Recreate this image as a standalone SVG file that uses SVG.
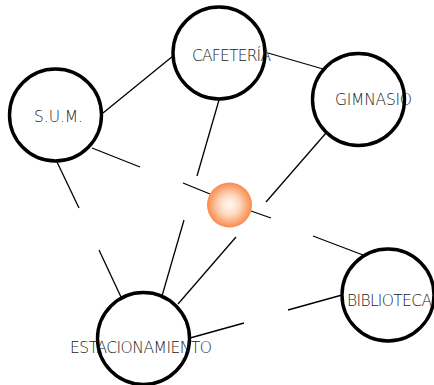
<svg xmlns="http://www.w3.org/2000/svg" width="434" height="385" viewBox="0 0 434 385">
  <defs>
    <radialGradient id="hubFill" cx="50%" cy="50%" r="50%">
      <stop offset="0" stop-color="#fffaf6"/>
      <stop offset="0.45" stop-color="#fdd9c0"/>
      <stop offset="1" stop-color="#f98a4a"/>
    </radialGradient>
  </defs>
  <style>
    .node { fill: #ffffff; stroke: #000000; stroke-width: 3.4; }
    .label { font-family: "DejaVu Sans", "Liberation Sans", sans-serif; font-weight: 200; font-size: 15.5px; fill: #1a1a1a; }
    .link { stroke: #000000; stroke-width: 1.3; fill: none; stroke-linecap: butt; }
  </style>
  <rect width="434" height="385" fill="#ffffff"/>

  <g id="connectors">
    <line class="link" x1="103" y1="113" x2="173" y2="56"/>
    <line class="link" x1="268" y1="53" x2="323" y2="69"/>
    <line class="link" x1="92" y1="148" x2="140" y2="167"/>
    <line class="link" x1="183" y1="183" x2="210" y2="194"/>
    <line class="link" x1="251" y1="211" x2="271" y2="218"/>
    <line class="link" x1="313" y1="236" x2="363" y2="255"/>
    <line class="link" x1="57" y1="162" x2="79" y2="208"/>
    <line class="link" x1="99" y1="250" x2="121" y2="297"/>
    <line class="link" x1="219" y1="100" x2="197" y2="176"/>
    <line class="link" x1="184" y1="220" x2="162" y2="296"/>
    <line class="link" x1="178" y1="304" x2="236" y2="237"/>
    <line class="link" x1="326" y1="133" x2="266" y2="202"/>
    <line class="link" x1="190" y1="338" x2="244" y2="323"/>
    <line class="link" x1="288" y1="310" x2="342" y2="295"/>
  </g>

  <g id="hub">
    <circle cx="229.5" cy="205" r="22.5" fill="url(#hubFill)"/>
  </g>

  <g id="sum">
    <circle class="node" cx="55.5" cy="115" r="46"/>
    <text class="label" x="34" y="122" textLength="49">S.U.M.</text>
  </g>

  <g id="cafeteria">
    <circle class="node" cx="219" cy="53" r="46"/>
    <text class="label" x="192" y="61" textLength="79">CAFETERÍA</text>
  </g>

  <g id="gimnasio">
    <circle class="node" cx="358.5" cy="99.5" r="46"/>
    <text class="label" x="335" y="105" textLength="77">GIMNASIO</text>
  </g>

  <g id="biblioteca">
    <circle class="node" cx="388" cy="295" r="46"/>
    <text class="label" x="347" y="306" textLength="85">BIBLIOTECA</text>
  </g>

  <g id="estacionamiento">
    <circle class="node" cx="143.5" cy="338.5" r="46"/>
    <text class="label" x="70" y="353" textLength="142">ESTACIONAMIENTO</text>
  </g>
</svg>
